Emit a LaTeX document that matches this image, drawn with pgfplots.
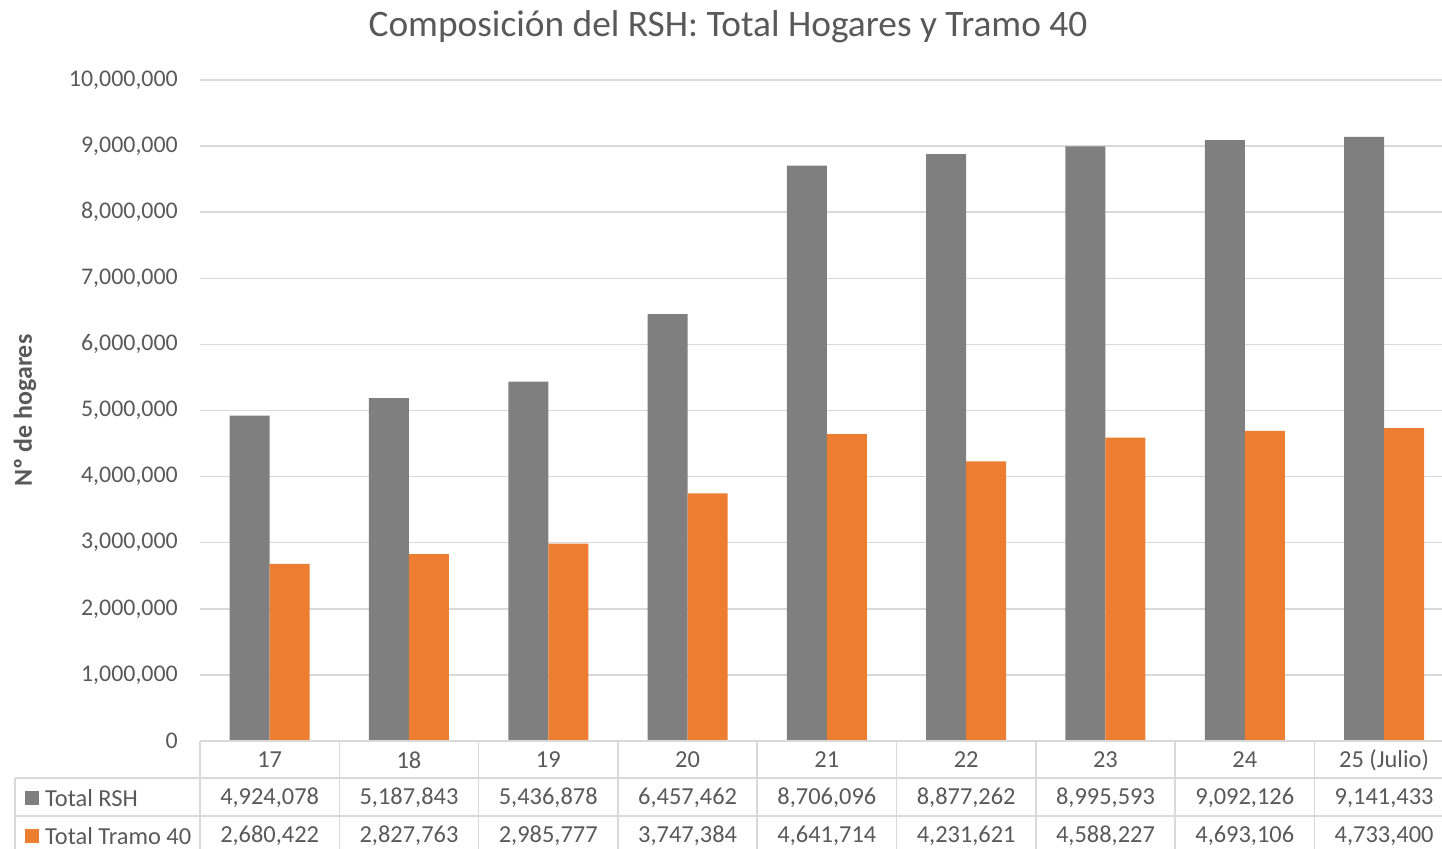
\documentclass[border=0pt]{standalone}
\usepackage{pgfplots}
\usepackage{pgfplotstable}
\pgfplotsset{compat=1.18}
\usepackage{fontspec}
\setmainfont{Carlito}
\definecolor{gbar}{HTML}{7F7F7F}
\definecolor{obar}{HTML}{ED7D31}
\definecolor{txt}{HTML}{595959}
\definecolor{grd}{HTML}{D9D9D9}
\pgfplotstableread{
x rsh t40
0 4924078 2680422
1 5187843 2827763
2 5436878 2985777
3 6457462 3747384
4 8706096 4641714
5 8877262 4231621
6 8995593 4588227
7 9092126 4693106
8 9141433 4733400
}\data
\newcommand{\cell}[3]{\node[text=txt, inner sep=0pt, font=\fontsize{24.5}{28}\selectfont] at ([yshift=#2]axis cs:#1,0) {#3};}
\begin{document}
\begin{tikzpicture}
\begin{axis}[
  scale only axis, width=1242bp, height=661bp,
  xmin=-0.5, xmax=8.416, ymin=0, ymax=1e7,
  clip=false,
  axis line style={draw=none},
  xtick=\empty,
  ytick={0,1000000,2000000,3000000,4000000,5000000,6000000,7000000,8000000,9000000,10000000},
  ymajorgrids, grid style={grd, line width=1.5bp},
  major tick length=0pt,
  scaled y ticks=false,
  yticklabel={\pgfmathprintnumber[fixed,precision=0,1000 sep={,},assume math mode=true]{\tick}},
  yticklabel style={text=txt, inner sep=0pt, xshift=-22bp, font=\fontsize{24}{28}\selectfont},
  title={Composición del RSH: Total Hogares y Tramo 40},
  title style={at={(rel axis cs:0,1)}, anchor=center, xshift=528bp, yshift=47bp, inner sep=0pt, text=txt, font=\fontsize{37.5}{42}\selectfont},
  ylabel={Nº de hogares},
  ylabel style={at={(rel axis cs:0,0.5)}, anchor=center, yshift=175bp, inner sep=0pt, text=txt, font=\fontsize{26}{30}\selectfont\bfseries},
]
\addplot[ybar, bar width=40bp, bar shift=-20bp, fill=gbar, draw=none] table[x=x,y=rsh]{\data};
\addplot[ybar, bar width=40bp, bar shift=20bp, fill=obar, draw=none] table[x=x,y=t40]{\data};
\coordinate (bl) at (rel axis cs:0,0);
\coordinate (tr) at (rel axis cs:1,1);
% table grid
\draw[grd, line width=1.5bp] (axis cs:-0.5,0) -- (axis cs:8.416,0);
\draw[grd, line width=1.5bp] ([xshift=-185bp,yshift=-37bp]axis cs:-0.5,0) -- ([yshift=-37bp]axis cs:8.416,0);
\draw[grd, line width=1.5bp] ([xshift=-185bp,yshift=-75bp]axis cs:-0.5,0) -- ([yshift=-75bp]axis cs:8.416,0);
\draw[grd, line width=1.5bp] ([xshift=-185bp,yshift=-37bp]axis cs:-0.5,0) -- ([xshift=-185bp,yshift=-110bp]axis cs:-0.5,0);
\pgfplotsinvokeforeach{-0.5,0.5,1.5,2.5,3.5,4.5,5.5,6.5,7.5}{
  \draw[grd, line width=1.5bp] (axis cs:#1,0) -- ([yshift=-110bp]axis cs:#1,0);
}
% legend keys
\fill[gbar] ([xshift=-175bp,yshift=-50bp]axis cs:-0.5,0) rectangle +(14bp,-14bp);
\fill[obar] ([xshift=-175bp,yshift=-88bp]axis cs:-0.5,0) rectangle +(14bp,-14bp);
\node[anchor=west, text=txt, inner sep=0pt, font=\fontsize{24.5}{28}\selectfont] at ([xshift=-155bp,yshift=-57bp]axis cs:-0.5,0) {Total RSH};
\node[anchor=west, text=txt, inner sep=0pt, font=\fontsize{24.5}{28}\selectfont] at ([xshift=-155bp,yshift=-95bp]axis cs:-0.5,0) {Total Tramo 40};
% category row
\cell{0}{-19bp}{17}
\cell{1}{-19bp}{18}
\cell{2}{-19bp}{19}
\cell{3}{-19bp}{20}
\cell{4}{-19bp}{21}
\cell{5}{-19bp}{22}
\cell{6}{-19bp}{23}
\cell{7}{-19bp}{24}
\cell{8}{-19bp}{25 (Julio)}
% Total RSH row
\cell{0}{-57bp}{4,924,078}
\cell{1}{-57bp}{5,187,843}
\cell{2}{-57bp}{5,436,878}
\cell{3}{-57bp}{6,457,462}
\cell{4}{-57bp}{8,706,096}
\cell{5}{-57bp}{8,877,262}
\cell{6}{-57bp}{8,995,593}
\cell{7}{-57bp}{9,092,126}
\cell{8}{-57bp}{9,141,433}
% Tramo 40 row
\cell{0}{-95bp}{2,680,422}
\cell{1}{-95bp}{2,827,763}
\cell{2}{-95bp}{2,985,777}
\cell{3}{-95bp}{3,747,384}
\cell{4}{-95bp}{4,641,714}
\cell{5}{-95bp}{4,231,621}
\cell{6}{-95bp}{4,588,227}
\cell{7}{-95bp}{4,693,106}
\cell{8}{-95bp}{4,733,400}
\end{axis}
\pgfresetboundingbox
\path[use as bounding box] ([xshift=-200bp,yshift=-107bp]bl) rectangle ([yshift=80bp]tr);
\end{tikzpicture}
\end{document}
